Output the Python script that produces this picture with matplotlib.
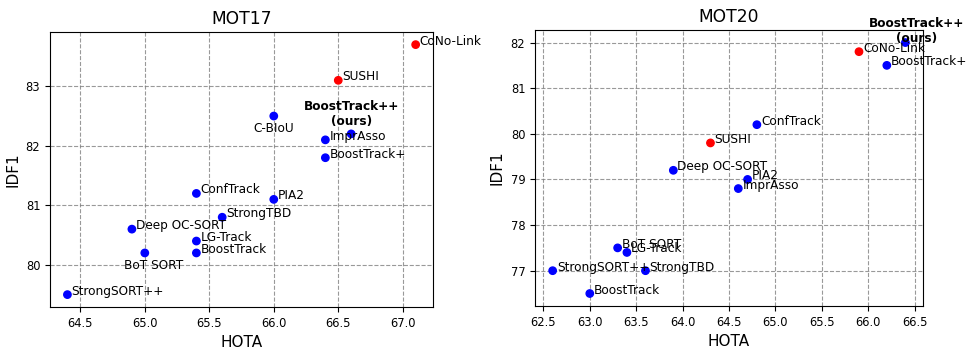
import matplotlib
matplotlib.use('Agg')
from matplotlib import pyplot as plt

# MOT17 results (HOTA, IDF1)
mot17_names = ['CoNo-Link', 'SUSHI', 'C-BIoU', 'BoostTrack++\n(ours)', 'ImprAsso', 'BoostTrack+',
               'ConfTrack', 'PIA2', 'StrongTBD', 'Deep OC-SORT', 'LG-Track', 'BoostTrack',
               'BoT SORT', 'StrongSORT++']
mot17_hota = [67.1, 66.5, 66.0, 66.6, 66.4, 66.4, 65.4, 66.0, 65.6, 64.9, 65.4, 65.4, 65.0, 64.4]
mot17_idf1 = [83.7, 83.1, 82.5, 82.2, 82.1, 81.8, 81.2, 81.1, 80.8, 80.6, 80.4, 80.2, 80.2, 79.5]
mot17_red = ['CoNo-Link', 'SUSHI']

# MOT20 results (HOTA, IDF1)
mot20_names = ['BoostTrack++\n(ours)', 'CoNo-Link', 'BoostTrack+', 'ConfTrack', 'SUSHI',
               'Deep OC-SORT', 'PIA2', 'ImprAsso', 'BoT SORT', 'LG-Track', 'StrongSORT++',
               'StrongTBD', 'BoostTrack']
mot20_hota = [66.4, 65.9, 66.2, 64.8, 64.3, 63.9, 64.7, 64.6, 63.3, 63.4, 62.6, 63.6, 63.0]
mot20_idf1 = [82.0, 81.8, 81.5, 80.2, 79.8, 79.2, 79.0, 78.8, 77.5, 77.4, 77.0, 77.0, 76.5]
mot20_red = ['CoNo-Link', 'SUSHI']

OURS = 'BoostTrack++\n(ours)'


def draw_panel(ax, title, names, hota, idf1, red, special):
    colors = ['red' if n in red else 'blue' for n in names]
    ax.scatter(hota, idf1, c=colors, s=28, zorder=3)
    for n, x, y in zip(names, hota, idf1):
        if n in special:
            dx, dy, ha, va = special[n]
        else:
            dx, dy, ha, va = 3, 0, 'left', 'baseline'
        ax.annotate(n, (x, y), xytext=(dx, dy), textcoords='offset points',
                    ha=ha, va=va, fontsize=8.7, multialignment='center',
                    fontweight='bold' if n == OURS else 'normal', zorder=4)
    ax.set_title(title, fontsize=12.3)
    ax.set_xlabel('HOTA', fontsize=11)
    ax.set_ylabel('IDF1', fontsize=11)
    ax.tick_params(labelsize=8.3)
    ax.grid(True, linestyle='--', color='gray', alpha=0.8, linewidth=0.8)
    ax.set_axisbelow(True)


fig = plt.figure(figsize=(9.71, 3.53), dpi=100)
ax1 = fig.add_axes([0.0515, 0.130, 0.3945, 0.779])
ax2 = fig.add_axes([0.551, 0.133, 0.3996, 0.782])

draw_panel(ax1, 'MOT17', mot17_names, mot17_hota, mot17_idf1, mot17_red,
           {'C-BIoU': (0, -4, 'center', 'top'),
            'BoT SORT': (6, -4, 'center', 'top'),
            OURS: (0, 4, 'center', 'bottom')})
ax1.set_yticks([80, 81, 82, 83])

draw_panel(ax2, 'MOT20', mot20_names, mot20_hota, mot20_idf1, mot20_red,
           {OURS: (8, -2, 'center', 'bottom')})
ax2.set_yticks([77, 78, 79, 80, 81, 82])

fig.savefig('out.png', dpi=100)
